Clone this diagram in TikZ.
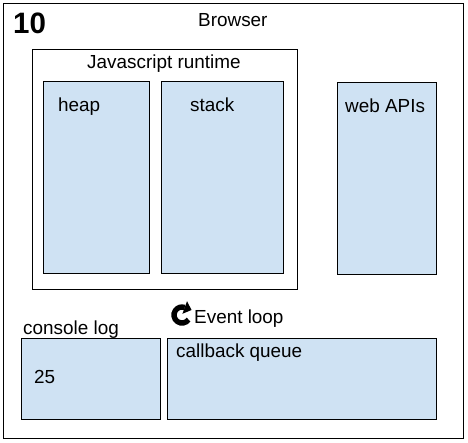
\documentclass[tikz,border=0pt]{standalone}
\usepackage{fontspec}
\setmainfont{Liberation Sans}
\usepackage{xcolor}
\usetikzlibrary{arrows.meta}
\definecolor{bg}{HTML}{FFFFFF}
\definecolor{ink}{HTML}{000000}
\definecolor{part}{HTML}{CFE2F3}
\tikzset{
  frame/.style={draw=ink, line width=0.9pt, inner sep=0pt, anchor=north west},
  block/.style={frame, fill=part},
  lab/.style={text=ink, font=\fontsize{18.9}{21}\selectfont, inner sep=0pt, anchor=base west},
  num/.style={text=ink, font=\fontsize{29.5}{32}\selectfont\bfseries, inner sep=0pt, anchor=base west},
  loopicon/.style={draw=ink, line width=5.4pt}
}

\begin{document}
\begin{tikzpicture}[x=1pt,y=-1pt]
  \useasboundingbox[fill=bg] (0,0) rectangle (468,442);
  % outer frame and runtime
  \node[frame, minimum width=460pt, minimum height=435pt] (browser) at (3,3) {};
  \node[frame, minimum width=265pt, minimum height=240pt] (runtime) at (32,49) {};
  % boxes
  \node[block, minimum width=106pt, minimum height=192pt] (heap) at (43,81) {};
  \node[block, minimum width=122pt, minimum height=192pt] (stack) at (161,81) {};
  \node[block, minimum width=99pt, minimum height=192pt] (apis) at (337,82) {};
  \node[block, minimum width=139pt, minimum height=81pt] (console) at (21,338) {};
  \node[block, minimum width=269pt, minimum height=81pt] (queue) at (167,338) {};
  % texts
  \node[num] (step) at (13,33) {10};
  \node[lab] (browsertxt) at (198,26) {Browser};
  \node[lab] (runtimetxt) at (87,68) {Javascript runtime};
  \node[lab] (heaptxt) at (58,111) {heap};
  \node[lab] (stacktxt) at (190,111) {stack};
  \node[lab] (apistxt) at (345,112) {web APIs};
  \node[lab] (consoletxt) at (23,334) {console log};
  \node[lab] (queuetxt) at (176,357) {callback queue};
  \node[lab] (val) at (34,383) {25};
  \node[lab] (looptxt) at (194,323) {Event loop};
  % event loop icon
  \coordinate (loopc) at (182,315);
  \draw[loopicon] (loopc) ++(-35:8pt) arc[start angle=-35, end angle=-290, radius=8pt] coordinate (loopend);
  \fill[ink] ([shift={(2.3pt,6.3pt)}]loopend) -- ([shift={(6.8pt,-2.5pt)}]loopend) -- ([shift={(-2.3pt,-6.3pt)}]loopend) -- cycle;
\end{tikzpicture}
\end{document}
